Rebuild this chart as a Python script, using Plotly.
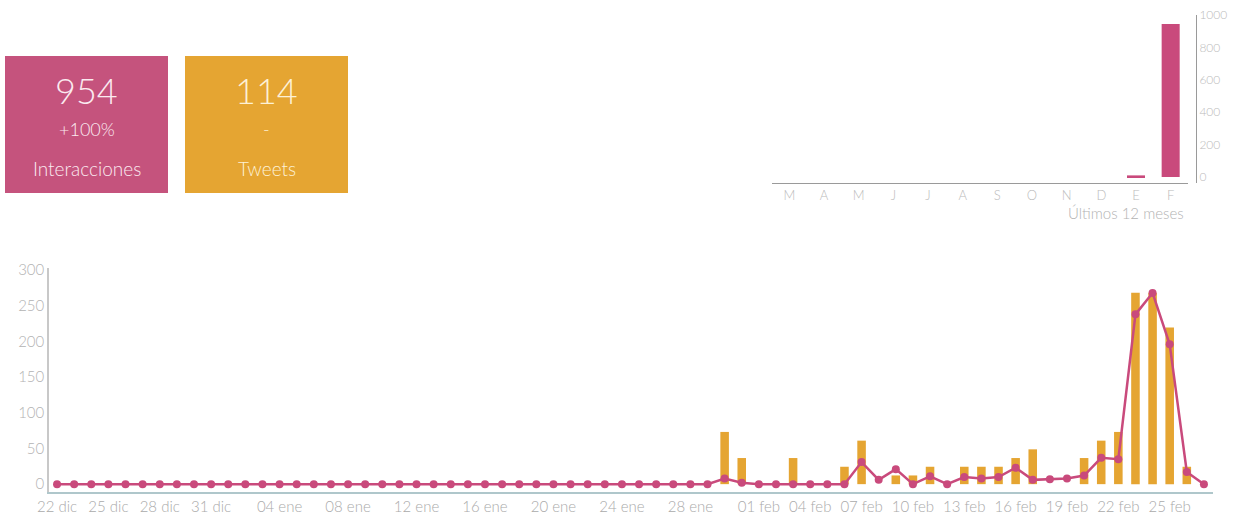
import pandas as pd
import plotly.graph_objects as go

W, H = 1237, 516
PINK = '#C94A7C'
PINK_BOX = '#C5537D'
ORANGE = '#E5A532'
GREY = '#B3B3B3'
FONT = 'Lato'

# daily series, 22 dic -> 27 feb
days = pd.date_range('2015-12-22', '2016-02-27', freq='D').strftime('%Y-%m-%d').tolist()
tweets = [
    0, 0, 0, 0, 0, 0, 0, 0, 0, 0,
    0, 0, 0, 0, 0, 0, 0, 0, 0, 0,
    0, 0, 0, 0, 0, 0, 0, 0, 0, 0,
    0, 0, 0, 0, 0, 0, 0, 0, 0, 6,
    3, 0, 0, 3, 0, 0, 2, 5, 0, 1,
    1, 2, 0, 2, 2, 2, 3, 4, 0, 0,
    3, 5, 6, 22, 22, 18, 2, 0,
]
interactions = [
    0, 0, 0, 0, 0, 0, 0, 0, 0, 0,
    0, 0, 0, 0, 0, 0, 0, 0, 0, 0,
    0, 0, 0, 0, 0, 0, 0, 0, 0, 0,
    0, 0, 0, 0, 0, 0, 0, 0, 0, 8,
    2, 0, 0, 0, 0, 0, 0, 31, 6, 21,
    0, 11, 0, 10, 8, 10, 23, 6, 7, 8,
    12, 37, 35, 238, 268, 196, 17, 0,
]
tick_idx = [0, 3, 6, 9, 13, 17, 21, 25, 29, 33, 37, 41, 44, 47, 50, 53, 56, 59, 62, 65]
tick_text = ['22 dic', '25 dic', '28 dic', '31 dic', '04 ene', '08 ene', '12 ene', '16 ene',
             '20 ene', '24 ene', '28 ene', '01 feb', '04 feb', '07 feb', '10 feb', '13 feb',
             '16 feb', '19 feb', '22 feb', '25 feb']

# last 12 months
months = ['mar', 'abr', 'may', 'jun', 'jul', 'ago', 'sep', 'oct', 'nov', 'dic', 'ene', 'feb']
month_letters = ['M', 'A', 'M', 'J', 'J', 'A', 'S', 'O', 'N', 'D', 'E', 'F']
monthly = [0, 0, 0, 0, 0, 0, 0, 0, 0, 0, 10, 944]

# summary cards
cards = [
    dict(value='954', delta='+100%', label='Interacciones', color=PINK_BOX, text='#FBEAF0'),
    dict(value='114', delta='-', label='Tweets', color=ORANGE, text='#FDF1D6'),
]


def px(x):
    return x / W


def py(y):
    return 1 - y / H


def light(size, color=GREY):
    return dict(size=size, color=color, family=FONT, weight=300)


fig = go.Figure()
fig.add_trace(go.Bar(
    x=days, y=tweets, xaxis='x', yaxis='y',
    marker=dict(color=ORANGE, line=dict(width=0)), width=0.5,
    hoverinfo='x+y', name='Tweets'
))
fig.add_trace(go.Scatter(
    x=days, y=interactions, xaxis='x', yaxis='y2',
    mode='lines+markers', line=dict(color=PINK, width=2.5),
    marker=dict(color=PINK, size=8), name='Interacciones'
))
fig.add_trace(go.Bar(
    x=months, y=monthly, xaxis='x2', yaxis='y3',
    marker=dict(color=PINK, line=dict(width=0)), width=0.52, name='Mensual'
))

# tweets scaled so one tweet ~ 12.2 interactions on the shared baseline
unit = 12.2
ylo, yhi = -11, 303

shapes = []
annotations = []
for i, c in enumerate(cards):
    x0 = 5 + i * 180
    shapes.append(dict(type='rect', xref='paper', yref='paper', x0=px(x0), x1=px(x0 + 163),
                       y0=py(193), y1=py(56), fillcolor=c['color'], line=dict(width=0), layer='below'))
    cx = px(x0 + 81.5)
    annotations += [
        dict(text=c['value'], x=cx, y=py(90), font=light(36, c['text'])),
        dict(text=c['delta'], x=cx, y=py(129), font=light(18, c['text'])),
        dict(text=c['label'], x=cx, y=py(168), font=light(19, c['text'])),
    ]
for a in annotations:
    a.update(xref='paper', yref='paper', showarrow=False, xanchor='center', yanchor='middle')

annotations.append(dict(text='Últimos 12 meses', xref='paper', yref='paper', x=px(1186), y=py(213),
                        xanchor='right', yanchor='middle', showarrow=False, font=light(15)))

fig.update_layout(
    width=W, height=H, margin=dict(l=0, r=0, t=0, b=0, autoexpand=False),
    plot_bgcolor='white', paper_bgcolor='white',
    font=light(12),
    showlegend=False, bargap=0.5,
    shapes=shapes, annotations=annotations,
    xaxis=dict(domain=[px(49), px(1213)], type='category', range=[-0.47, 67.53],
               tickvals=[days[i] for i in tick_idx], ticktext=tick_text, automargin=False,
               showgrid=False, zeroline=False, showline=True, linecolor='#AFC7CB', linewidth=1.5,
               ticks='', tickfont=light(15, '#AAAAAA'), anchor='y'),
    yaxis=dict(domain=[py(492), py(268)], range=[ylo / unit, yhi / unit], automargin=False,
               showgrid=False, zeroline=False, showticklabels=False, showline=False, anchor='x'),
    yaxis2=dict(overlaying='y', side='left', anchor='x', range=[ylo, yhi], automargin=False,
                tickvals=[0, 50, 100, 150, 200, 250, 300], showgrid=False, zeroline=False,
                showline=True, linecolor='#C8C8C8', linewidth=1.5, ticks='',
                tickfont=light(15)),
    xaxis2=dict(domain=[px(772), px(1188)], type='category', anchor='y3', automargin=False,
                tickvals=months, ticktext=month_letters, showgrid=False, zeroline=False,
                showline=True, linecolor='#9A9A9A', linewidth=1, ticks='',
                tickfont=light(13, '#BBBBBB')),
    yaxis3=dict(domain=[py(183), py(15)], range=[-37, 1000], anchor='free', position=px(1196),
                side='right', tickvals=[0, 200, 400, 600, 800, 1000], showgrid=False, zeroline=False,
                showline=True, linecolor='#9A9A9A', linewidth=1, ticks='', automargin=False,
                tickfont=light(12, '#BBBBBB')),
)

# page body has a default 8px margin; drop it so the figure sits at the window corner
fig.write_html('out.html', config={'displayModeBar': False},
               post_script="document.body.style.margin='0';document.body.style.overflow='hidden';")
